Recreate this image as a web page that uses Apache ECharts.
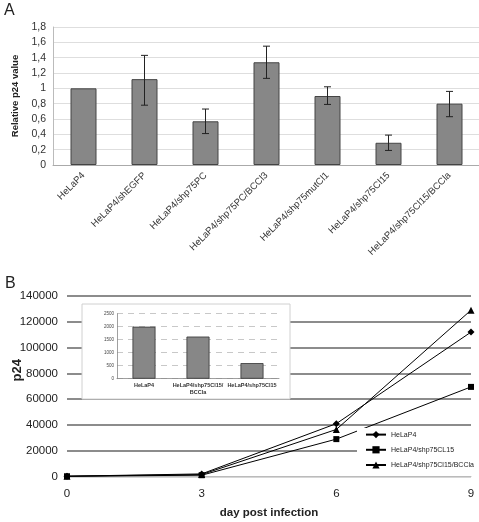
<!DOCTYPE html>
<html><head><meta charset="utf-8">
<script src="https://cdn.jsdelivr.net/npm/echarts@6/dist/echarts.min.js"></script>
<style>html,body{margin:0;padding:0;background:#fff}#c{width:479px;height:522px}</style>
</head><body><div id="c"></div>
<script>
// Panel A
const cellLines = ['HeLaP4','HeLaP4/shEGFP','HeLaP4/shp75PC','HeLaP4/shp75PC/BCCl3','HeLaP4/shp75mutCl1','HeLaP4/shp75Cl15','HeLaP4/shp75Cl15/BCCla'];
const relP24 = [1.0, 1.12, 0.57, 1.34, 0.90, 0.29, 0.80];
const errLow = [null, 0.78, 0.41, 1.13, 0.79, 0.19, 0.63];
const errHigh = [null, 1.43, 0.73, 1.55, 1.02, 0.39, 0.96];
// Panel B
const days = [0, 3, 6, 9];
const seriesNames = ['HeLaP4', 'HeLaP4/shp75CL15', 'HeLaP4/shp75Cl15/BCCla'];
const p24HeLaP4 = [200, 2000, 41000, 112000];
const p24Cl15 = [200, 1000, 29000, 69500];
const p24BCCla = [200, 1500, 36500, 129000];
// Inset
const insetCats = ['HeLaP4', 'HeLaP4/shp75Cl15/\nBCCla', 'HeLaP4/shp75Cl15'];
const insetVals = [2000, 1620, 600];

const FONT = "'Liberation Sans', Arial, sans-serif";
const chart = echarts.init(document.getElementById('c'), null, {renderer: 'canvas'});

const errData = cellLines.map((c, i) => [i, errLow[i], errHigh[i]]).filter(d => d[1] !== null);

const option = {
  animation: false,
  backgroundColor: '#fff',
  textStyle: {fontFamily: FONT},
  graphic: [
    {type: 'text', left: 4, top: 3, z: 10, style: {text: 'A', font: '16px ' + FONT, fill: '#222'}},
    {type: 'text', left: 5, top: 276, z: 10, style: {text: 'B', font: '16px ' + FONT, fill: '#222'}},
    {type: 'rect', z: 1, shape: {x: 82, y: 304, width: 208, height: 95}, style: {fill: '#fff', stroke: '#d0d0d0', lineWidth: 1}}
  ],
  grid: [
    {left: 53, top: 27, width: 427, height: 138, outerBoundsMode: 'none', containLabel: false},
    {left: 67, top: 296, right: 8, height: 180.5, outerBoundsMode: 'none', containLabel: false},
    {left: 117, top: 313.7, width: 162, height: 65, z: 2, outerBoundsMode: 'none', containLabel: false}
  ],
  legend: {
    data: seriesNames,
    orient: 'vertical',
    left: 357, top: 428,
    padding: [3, 4, 3, 8],
    itemGap: 8,
    itemWidth: 20, itemHeight: 9,
    backgroundColor: '#fff',
    textStyle: {fontSize: 7, color: '#222', fontFamily: FONT},
    z: 5
  },
  xAxis: [
    {type: 'category', gridIndex: 0, data: cellLines,
      axisLine: {lineStyle: {color: '#aaa'}}, axisTick: {show: false},
      axisLabel: {rotate: 45, interval: 0, fontSize: 9.5, color: '#333', margin: 9, fontFamily: FONT}},
    {type: 'value', gridIndex: 1, min: 0, max: 9, interval: 3,
      name: 'day post infection', nameLocation: 'middle', nameGap: 30, nameMoveOverlap: false,
      nameTextStyle: {fontSize: 11.5, fontWeight: 'bold', color: '#222', fontFamily: FONT},
      axisLine: {lineStyle: {color: '#bbb'}}, axisTick: {show: false}, splitLine: {show: false},
      axisLabel: {fontSize: 11.5, color: '#222', margin: 11, fontFamily: FONT}},
    {type: 'category', gridIndex: 2, data: insetCats, z: 2,
      axisLine: {lineStyle: {color: '#888', width: 0.8}}, axisTick: {show: false},
      axisLabel: {interval: 0, fontSize: 5.5, fontWeight: 'bold', color: '#333', margin: 3, lineHeight: 7, fontFamily: FONT}}
  ],
  yAxis: [
    {type: 'value', gridIndex: 0, min: 0, max: 1.8, interval: 0.2,
      name: 'Relative p24 value', nameLocation: 'middle', nameGap: 32,
      nameTextStyle: {fontSize: 9.5, fontWeight: 'bold', color: '#222', fontFamily: FONT},
      axisLine: {show: true, lineStyle: {color: '#bbb'}}, axisTick: {show: false},
      splitLine: {lineStyle: {color: '#dedede'}},
      axisLabel: {fontSize: 10.5, color: '#333', margin: 7, fontFamily: FONT,
        formatter: v => String(+v.toFixed(1)).replace('.', ',')}},
    {type: 'value', gridIndex: 1, min: 0, max: 140000, interval: 20000,
      name: 'p24', nameLocation: 'middle', nameGap: 43, nameMoveOverlap: false,
      nameTextStyle: {fontSize: 13, fontWeight: 'bold', color: '#222', padding: [0, 0, 0, 32], fontFamily: FONT},
      axisLine: {show: false}, axisTick: {show: false},
      splitLine: {lineStyle: {color: ['#c8c8c8', '#666', '#666', '#666', '#666', '#666', '#666', '#666'], width: 1.5}},
      axisLabel: {fontSize: 11.5, color: '#222', margin: 9, fontFamily: FONT, formatter: v => String(v)}},
    {type: 'value', gridIndex: 2, min: 0, max: 2500, interval: 500, z: 2,
      axisLine: {show: true, lineStyle: {color: '#888', width: 0.8}}, axisTick: {show: false},
      splitLine: {lineStyle: {color: '#c8c8c8', type: [6, 5]}},
      axisLabel: {fontSize: 4.5, color: '#444', margin: 3, fontFamily: FONT, formatter: v => String(v)}}
  ],
  series: [
    {type: 'bar', xAxisIndex: 0, yAxisIndex: 0, data: relP24, barWidth: 26,
      itemStyle: {color: '#878787', borderColor: '#444', borderWidth: 1}},
    {type: 'custom', xAxisIndex: 0, yAxisIndex: 0, data: errData, z: 3,
      renderItem: function (params, api) {
        const x = api.value(0);
        const lo = api.coord([x, api.value(1)]);
        const hi = api.coord([x, api.value(2)]);
        const w = 3.5;
        const st = {stroke: '#222', lineWidth: 1};
        return {type: 'group', children: [
          {type: 'line', shape: {x1: lo[0], y1: lo[1], x2: hi[0], y2: hi[1]}, style: st},
          {type: 'line', shape: {x1: lo[0] - w, y1: lo[1], x2: lo[0] + w, y2: lo[1]}, style: st},
          {type: 'line', shape: {x1: hi[0] - w, y1: hi[1], x2: hi[0] + w, y2: hi[1]}, style: st}
        ]};
      }},
    {type: 'line', name: seriesNames[0], xAxisIndex: 1, yAxisIndex: 1, data: days.map((d, i) => [d, p24HeLaP4[i]]),
      symbol: 'diamond', symbolSize: 7, color: '#000', lineStyle: {color: '#000', width: 1}, itemStyle: {color: '#000'}, z: 3},
    {type: 'line', name: seriesNames[1], xAxisIndex: 1, yAxisIndex: 1, data: days.map((d, i) => [d, p24Cl15[i]]),
      symbol: 'rect', symbolSize: 6, color: '#000', lineStyle: {color: '#000', width: 1}, itemStyle: {color: '#000'}, z: 3},
    {type: 'line', name: seriesNames[2], xAxisIndex: 1, yAxisIndex: 1, data: days.map((d, i) => [d, p24BCCla[i]]),
      symbol: 'triangle', symbolSize: 7, color: '#000', lineStyle: {color: '#000', width: 1}, itemStyle: {color: '#000'}, z: 3},
    {type: 'bar', xAxisIndex: 2, yAxisIndex: 2, data: insetVals, barWidth: 23, z: 3,
      itemStyle: {color: '#878787', borderColor: '#333', borderWidth: 0.8}}
  ]
};
chart.setOption(option);
</script>
</body></html>
